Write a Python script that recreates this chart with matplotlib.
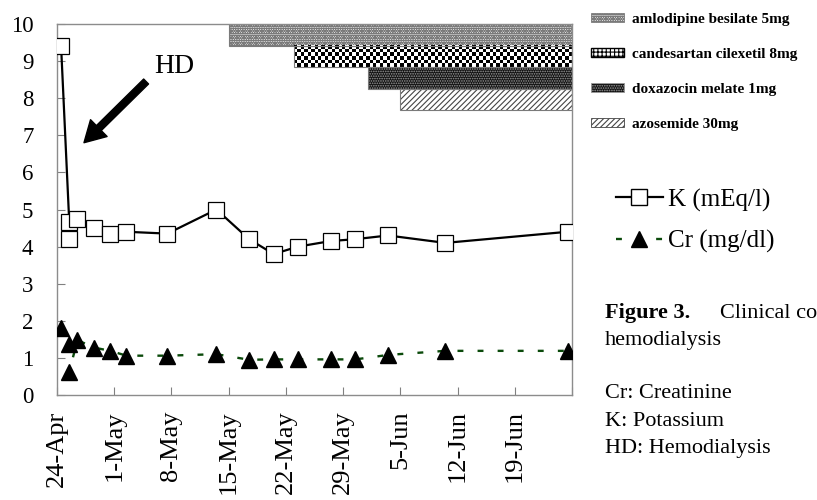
import matplotlib.pyplot as plt
import numpy as np
from matplotlib.patches import Patch
from matplotlib.lines import Line2D

plt.rcParams['font.family'] = ['Liberation Serif', 'DejaVu Serif']
plt.rcParams['hatch.linewidth'] = 0.8

start = np.datetime64('2007-04-24')

# potassium (mEq/l)
k_dates = ['2007-04-24', '2007-04-25', '2007-04-25', '2007-04-26', '2007-04-28',
           '2007-04-30', '2007-05-02', '2007-05-07', '2007-05-13', '2007-05-17',
           '2007-05-20', '2007-05-23', '2007-05-27', '2007-05-30', '2007-06-03',
           '2007-06-10', '2007-06-25']
k_vals = [9.4, 4.65, 4.2, 4.75, 4.5, 4.35, 4.4, 4.35, 5.0, 4.2,
          3.8, 4.0, 4.15, 4.2, 4.3, 4.1, 4.4]

# creatinine (mg/dl)
cr_dates = k_dates
cr_vals = [1.8, 1.37, 0.63, 1.48, 1.28, 1.19, 1.06, 1.06, 1.1, 0.95,
           0.96, 0.96, 0.96, 0.96, 1.08, 1.19, 1.19]

# drugs: name, start date (bars run to the end of the axis)
drugs = ['amlodipine besilate 5mg', 'candesartan cilexetil 8mg',
         'doxazocin melate 1mg', 'azosemide 30mg']
drug_start = ['2007-05-15', '2007-05-23', '2007-06-01', '2007-06-05']
end_date = '2007-06-26'

tick_dates = ['2007-04-24', '2007-05-01', '2007-05-08', '2007-05-15', '2007-05-22',
              '2007-05-29', '2007-06-05', '2007-06-12', '2007-06-19', '2007-06-26']
tick_labels = ['24-Apr', '1-May', '8-May', '15-May', '22-May',
               '29-May', '5-Jun', '12-Jun', '19-Jun', '']


def days(d):
    return (np.array(d, dtype='datetime64[D]') - start).astype(float)


fig = plt.figure(figsize=(8.17, 5.0), dpi=100)
ax = fig.add_axes([57 / 817, 1 - 395 / 500, (572 - 57) / 817, (395 - 24) / 500])

xk = days(k_dates) + 0.5
xc = days(cr_dates) + 0.5
x_end = days(end_date)

ax.plot(xk, k_vals, color='black', lw=1.6, marker='s', ms=11, mfc='white',
        mec='black', mew=0.9, zorder=5)
cr_line, = ax.plot(xc, cr_vals, color='#0b4a0b', lw=1.7, marker='^', ms=12,
                   mfc='black', mec='black', zorder=4)
cr_line.set_dashes([2.5, 6])

# drug bars
bar_h = 0.58
x0 = days(drug_start)
styles = [
    dict(face='white', hcol='#7a7a7a', hatch='ooooooo'),
    None,
    dict(face='#111111', hcol='#9a9a9a', hatch='.......'),
    dict(face='white', hcol='#444444', hatch='//////'),
]
handles = []
for i, name in enumerate(drugs):
    yc = 10 - bar_h * (i + 0.5)
    st = styles[i]
    if st is None:
        # checkerboard texture
        w_px = (x_end - x0[i]) * 515 / 63
        nc = int(w_px / 3.4)
        nr = 6
        board = (np.add.outer(np.arange(nr), np.arange(nc)) % 2).astype(float)
        ax.imshow(board, extent=(x0[i], x_end, yc - bar_h / 2, yc + bar_h / 2),
                  aspect='auto', cmap='gray', interpolation='nearest', zorder=1)
        handles.append(Patch(facecolor='white', edgecolor='black', hatch='++++'))
    else:
        ax.barh(yc, x_end - x0[i], left=x0[i], height=bar_h, color=st['face'],
                edgecolor=st['hcol'], hatch=st['hatch'], linewidth=0, zorder=1)
        handles.append(Patch(facecolor=st['face'], edgecolor=st['hcol'],
                             hatch=st['hatch'], linewidth=0.6))
    ax.barh(yc, x_end - x0[i], left=x0[i], height=bar_h, fill=False,
            edgecolor='#7a7a7a', linewidth=0.8, zorder=2)

ax.set_xlim(0, x_end)
ax.set_ylim(0, 10)
ax.set_yticks(range(11))
ax.set_xticks(days(tick_dates))
ax.set_xticklabels(tick_labels, rotation=90)
ax.tick_params(axis='y', direction='in', length=6, color='#808080', labelsize=16.5, pad=17)
ax.tick_params(axis='x', direction='in', length=6, color='#808080', labelsize=19, pad=11)
for s in ax.spines.values():
    s.set_color('#8c8c8c')
    s.set_linewidth(1.0)

# HD arrow
ax.annotate('', xy=(3.3, 6.8), xytext=(10.9, 8.45),
            arrowprops=dict(facecolor='black', edgecolor='black', width=5,
                            headwidth=17, headlength=15))
ax.text(14.4, 8.85, 'HD', fontsize=20, ha='center', va='center')

# drug legend
fig.legend(handles, drugs, loc='upper left', bbox_to_anchor=(583 / 817, 1 - 5 / 500),
           frameon=False, prop={'size': 11, 'weight': 'bold'}, handlelength=2.2,
           handleheight=0.5, labelspacing=1.45, handletextpad=0.5, borderpad=0)

# K / Cr legend
kh = Line2D([], [], color='black', lw=1.6, marker='s', ms=11, mfc='white', mec='black')
ch = Line2D([], [], color='#0b4a0b', lw=1.7, marker='^', ms=12, mfc='black', mec='black',
            dashes=[2.5, 6])
fig.legend([kh, ch], ['K (mEq/l)', 'Cr (mg/dl)'], loc='upper left',
           bbox_to_anchor=(603 / 817, 1 - 176 / 500), frameon=False,
           prop={'size': 18}, handlelength=1.9, handletextpad=0.2,
           labelspacing=0.72, borderpad=0)

# caption
fig.text(605 / 817, 1 - 313 / 500, 'Figure 3.', fontsize=16, weight='bold', va='center')
fig.text(720 / 817, 1 - 313 / 500, 'Clinical co', fontsize=16, va='center')
cap = ['hemodialysis', '', 'Cr: Creatinine', 'K: Potassium', 'HD: Hemodialysis']
for i, line in enumerate(cap):
    fig.text(605 / 817, 1 - (340 + 27 * i) / 500, line, fontsize=16, va='center')

fig.savefig('out.png', dpi=100)
